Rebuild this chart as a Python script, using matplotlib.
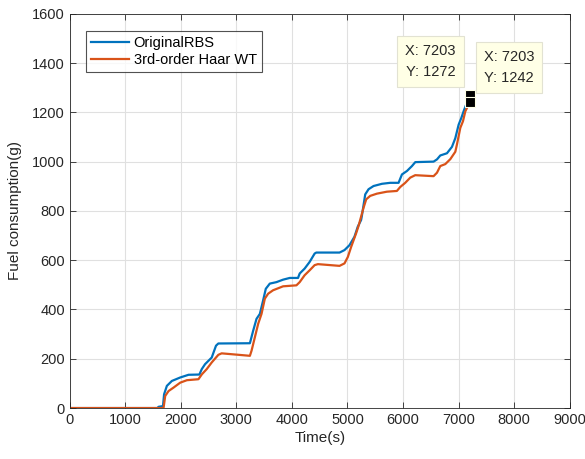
import matplotlib.pyplot as plt

plt.rcParams['font.family'] = ['Liberation Sans', 'DejaVu Sans']

# cumulative fuel use, original RBS
t_orig = [0, 1580, 1600, 1680, 1700, 1750, 1840, 1990, 2140, 2335, 2378, 2437,
          2557, 2634, 2676, 3244, 3303, 3363, 3423, 3482, 3530, 3602, 3722,
          3841, 3961, 4110, 4140, 4229, 4319, 4409, 4439, 4857, 4946, 5036,
          5125, 5185, 5245, 5259, 5319, 5379, 5469, 5620, 5769, 5919, 5980,
          6070, 6160, 6220, 6549, 6610, 6670, 6790, 6880, 6940, 7000, 7048,
          7089, 7203]
fc_orig = [0, 0, 5, 8, 56, 90, 110, 124, 135, 136, 158, 178,
           205, 253, 262, 263, 314, 362, 382, 437, 484, 505, 511,
           521, 528, 528, 546, 566, 593, 627, 631, 631, 641, 661,
           695, 736, 763, 780, 867, 888, 901, 910, 914, 914, 948,
           962, 982, 998, 1000, 1009, 1025, 1034, 1060, 1095, 1150, 1177,
           1204, 1272]

# cumulative fuel use, 3rd-order Haar wavelet
t_haar = [0, 1690, 1720, 1780, 1870, 1990, 2110, 2318, 2380, 2467, 2557, 2676,
          2736, 3244, 3274, 3333, 3393, 3453, 3513, 3572, 3661, 3841, 4081,
          4140, 4229, 4319, 4409, 4468, 4857, 4946, 5006, 5066, 5155, 5199,
          5289, 5337, 5409, 5529, 5709, 5889, 5949, 6039, 6129, 6219, 6549,
          6610, 6670, 6760, 6850, 6940, 6970, 7030, 7078, 7120, 7203]
fc_haar = [0, 0, 49, 69, 83, 103, 113, 117, 137, 158, 185, 216,
           222, 212, 233, 287, 342, 382, 444, 464, 478, 494, 498,
           511, 539, 559, 580, 584, 577, 587, 613, 654, 709, 739,
           813, 847, 861, 870, 878, 881, 897, 914, 935, 945, 941,
           955, 982, 990, 1010, 1040, 1070, 1137, 1164, 1204, 1242]

fig = plt.figure(figsize=(5.85, 4.59), dpi=100)
ax = fig.add_axes([0.119, 0.111, 0.855, 0.859])

ax.plot(t_orig, fc_orig, color='#0072BD', lw=1.6, label='OriginalRBS')
ax.plot(t_haar, fc_haar, color='#D95319', lw=1.6, label='3rd-order Haar WT')

ax.set_xlim(0, 9000)
ax.set_ylim(0, 1600)
ax.set_xticks(range(0, 9001, 1000))
ax.set_yticks(range(0, 1601, 200))
ax.grid(True, color='#e0e0e0', lw=0.8)
ax.set_axisbelow(True)
ax.tick_params(direction='in', top=True, right=True, labelsize=10.5,
               colors='#262626', length=4, width=0.6)
for s in ax.spines.values():
    s.set_color('#262626')
    s.set_linewidth(0.6)

ax.set_xlabel('Time(s)', fontsize=11, color='#262626', labelpad=3)
ax.set_ylabel('Fuel consumption(g)', fontsize=11, color='#262626', labelpad=7)

leg = ax.legend(loc='upper left', bbox_to_anchor=(0.033, 0.957),
                borderaxespad=0, fontsize=10.5, fancybox=False,
                handlelength=2.6, handletextpad=0.3, borderpad=0.35,
                labelspacing=0.2)
leg.get_frame().set_edgecolor('#262626')
leg.get_frame().set_linewidth(0.8)

# data tips at the end of each run
tip_box = dict(boxstyle='square,pad=0.55', fc='#FFFFE6', ec='#e2e2d2', lw=0.8)
for t, f, off, ha in [(t_orig[-1], fc_orig[-1], (-14, 16), 'right'),
                      (t_haar[-1], fc_haar[-1], (14, 17), 'left')]:
    ax.plot(t, f, 's', color='black', ms=7.5, mec='#FFFFE6', mew=0.8, zorder=7)
    ax.annotate(f'X: {t}\nY: {f}', xy=(t, f), xytext=off,
                textcoords='offset pixels', ha=ha, va='bottom',
                fontsize=10.5, color='#262626', linespacing=1.6,
                bbox=tip_box, zorder=6)

fig.savefig('out.png', dpi=100)
